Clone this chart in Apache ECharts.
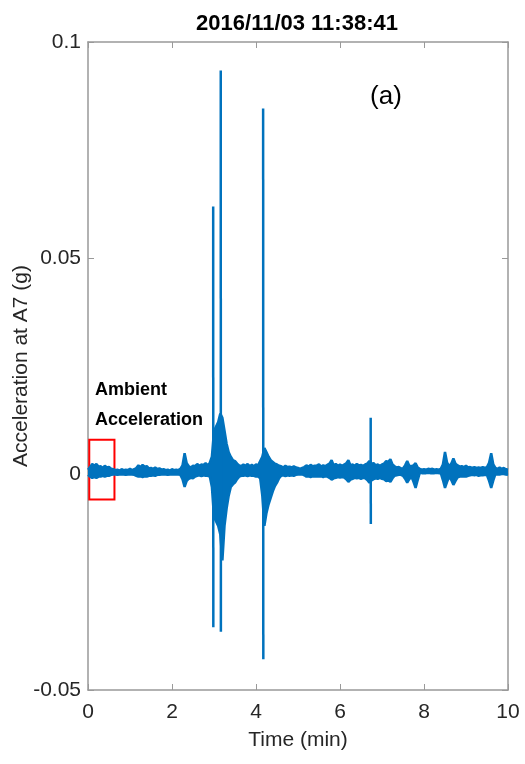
<!DOCTYPE html>
<html>
<head>
<meta charset="utf-8">
<script src="https://cdn.jsdelivr.net/npm/echarts@6/dist/echarts.min.js"></script>
<style>html,body{margin:0;padding:0;background:#fff}#c{width:525px;height:764px}</style>
</head>
<body>
<div id="c"></div>
<script>
// envelope samples every 0.1 min (t = k * 0.1, k = 0..100)
const gridStep = 0.1;
const upperEnv = [
0.0010,0.0023,0.0023,0.0018,0.0019,0.0016,0.0011,0.0010,0.0011,0.0010,
0.0012,0.0011,0.0020,0.0021,0.0018,0.0014,0.0015,0.0013,0.0011,0.0010,
0.0011,0.0010,0.0012,0.0048,0.0018,0.0019,0.0023,0.0022,0.0025,0.0026,
0.0100,0.0120,0.0130,0.0070,0.0040,0.0030,0.0020,0.0022,0.0023,0.0021,
0.0022,0.0030,0.0060,0.0040,0.0028,0.0022,0.0018,0.0019,0.0017,0.0018,
0.0014,0.0014,0.0020,0.0021,0.0019,0.0022,0.0020,0.0021,0.0032,0.0023,
0.0022,0.0022,0.0032,0.0022,0.0023,0.0021,0.0022,0.0030,0.0025,0.0022,
0.0022,0.0030,0.0034,0.0018,0.0016,0.0013,0.0030,0.0018,0.0025,0.0012,
0.0011,0.0012,0.0012,0.0011,0.0012,0.0051,0.0018,0.0036,0.0020,0.0018,
0.0019,0.0016,0.0016,0.0015,0.0016,0.0016,0.0048,0.0014,0.0015,0.0014,
0.0010];
const lowerEnv = [
-0.0002,-0.0009,-0.0009,-0.0006,-0.0006,-0.0004,-0.0001,-0.0002,-0.0001,-0.0002,
-0.0001,-0.0002,-0.0006,-0.0007,-0.0006,-0.0004,-0.0004,-0.0002,-0.0001,-0.0002,
-0.0001,-0.0001,-0.0002,-0.0030,-0.0011,-0.0010,-0.0004,-0.0005,-0.0004,-0.0006,
-0.0100,-0.0120,-0.0200,-0.0080,-0.0030,-0.0020,-0.0006,-0.0004,-0.0005,-0.0004,
-0.0006,-0.0010,-0.0120,-0.0070,-0.0040,-0.0020,-0.0004,-0.0005,-0.0004,-0.0004,
-0.0001,-0.0001,-0.0006,-0.0007,-0.0006,-0.0006,-0.0007,-0.0006,-0.0013,-0.0009,
-0.0008,-0.0008,-0.0018,-0.0011,-0.0010,-0.0011,-0.0010,-0.0020,-0.0012,-0.0011,
-0.0011,-0.0016,-0.0018,-0.0004,-0.0002,-0.0004,-0.0020,-0.0006,-0.0032,0.0003,
0.0002,0.0003,0.0002,0.0003,0.0002,-0.0032,-0.0006,-0.0025,-0.0008,-0.0006,
-0.0006,-0.0003,-0.0003,-0.0004,-0.0003,-0.0003,-0.0032,0.0000,-0.0001,0.0000,
-0.0002];
// half-step envelope samples (t = k * 0.1 + 0.05, k = 0..99)
const midUpper = [
0.0016,0.0019,0.0017,0.0014,0.0015,0.0012,0.0009,0.0008,0.0009,0.0009,
0.0009,0.0014,0.0016,0.0017,0.0013,0.0012,0.0011,0.0010,0.0009,0.0008,
0.0009,0.0009,0.0020,0.0025,0.0015,0.0018,0.0019,0.0021,0.0020,0.0040,
0.0110,0.0140,0.0100,0.0050,0.0032,0.0024,0.0018,0.0019,0.0018,0.0018,
0.0020,0.0040,0.0050,0.0032,0.0024,0.0019,0.0015,0.0016,0.0015,0.0015,
0.0012,0.0016,0.0017,0.0018,0.0020,0.0017,0.0018,0.0024,0.0020,0.0019,
0.0019,0.0025,0.0020,0.0019,0.0020,0.0019,0.0024,0.0024,0.0020,0.0019,
0.0024,0.0028,0.0022,0.0015,0.0013,0.0020,0.0019,0.0020,0.0015,0.0010,
0.0010,0.0011,0.0010,0.0010,0.0022,0.0026,0.0024,0.0024,0.0017,0.0016,
0.0015,0.0014,0.0014,0.0014,0.0014,0.0026,0.0022,0.0012,0.0012,0.0011];
const midLower = [
-0.0006,-0.0007,-0.0006,-0.0004,-0.0004,-0.0002,-0.0001,-0.0001,-0.0001,-0.0001,
-0.0001,-0.0004,-0.0005,-0.0005,-0.0004,-0.0003,-0.0002,-0.0001,-0.0001,-0.0001,
-0.0001,-0.0001,-0.0012,-0.0016,-0.0009,-0.0006,-0.0003,-0.0003,-0.0004,-0.0030,
-0.0110,-0.0140,-0.0120,-0.0050,-0.0024,-0.0012,-0.0004,-0.0003,-0.0003,-0.0004,
-0.0006,-0.0050,-0.0090,-0.0055,-0.0028,-0.0010,-0.0003,-0.0003,-0.0003,-0.0002,
-0.0001,-0.0003,-0.0005,-0.0005,-0.0005,-0.0005,-0.0005,-0.0009,-0.0010,-0.0007,
-0.0007,-0.0012,-0.0013,-0.0009,-0.0009,-0.0009,-0.0014,-0.0015,-0.0010,-0.0009,
-0.0012,-0.0015,-0.0010,-0.0003,-0.0002,-0.0011,-0.0012,-0.0018,-0.0014,0.0002,
0.0002,0.0002,0.0002,0.0002,-0.0014,-0.0018,-0.0014,-0.0016,-0.0006,-0.0005,
-0.0004,-0.0002,-0.0002,-0.0003,-0.0002,-0.0016,-0.0015,-0.0001,0.0000,-0.0001];
const spikeTimes = [2.98, 3.16, 4.17, 6.73];
const spikeHigh = [0.0619, 0.0934, 0.0846, 0.0130];
const spikeLow = [-0.0355, -0.0365, -0.0429, -0.0116];
const xTicks = [0, 2, 4, 6, 8, 10];
const yTicks = [-0.05, 0, 0.05, 0.1];
const boxTime = [0.03, 0.63];
const boxAccel = [-0.0059, 0.0079];

const BLUE = '#0072BD';
const FONT = "'Liberation Sans', Arial, Helvetica, sans-serif";
const axisGrey = '#999999';
const labelCol = '#262626';

function merge(full, half) {
  const out = [];
  for (let k = 0; k < full.length; k++) {
    out.push([+(k * gridStep).toFixed(3), full[k]]);
    if (k < half.length) out.push([+(k * gridStep + gridStep / 2).toFixed(3), half[k]]);
  }
  return out;
}
const upPts = merge(upperEnv, midUpper);
const loPts = merge(lowerEnv, midLower);

const bandStyle = {
  type: 'line', showSymbol: false, symbol: 'none', silent: true,
  lineStyle: {color: BLUE, width: 2.5},
  areaStyle: {color: BLUE, opacity: 1, origin: 0}
};
const series = [
  Object.assign({}, bandStyle, {name: 'upper', data: upPts}),
  Object.assign({}, bandStyle, {name: 'lower', data: loPts,
    markArea: {
      silent: true,
      itemStyle: {color: 'rgba(0,0,0,0)', borderColor: '#ff0000', borderWidth: 2},
      data: [[{coord: [boxTime[0], boxAccel[1]]}, {coord: [boxTime[1], boxAccel[0]]}]]
    }})
];
spikeTimes.forEach((t, i) => {
  series.push({
    type: 'line', showSymbol: false, symbol: 'none', silent: true,
    lineStyle: {color: BLUE, width: 2.5},
    data: [[t, spikeHigh[i]], [+(t + 0.004).toFixed(3), spikeLow[i]]]
  });
});

const axisCommon = {
  axisLine: {show: true, onZero: false, lineStyle: {color: axisGrey, width: 1.5}},
  axisTick: {show: true, inside: true, length: 6, lineStyle: {color: axisGrey}},
  splitLine: {show: false}
};

const chart = echarts.init(document.getElementById('c'), null, {renderer: 'canvas'});
chart.setOption({
  animation: false,
  backgroundColor: '#fff',
  grid: {left: 88, right: 17, top: 42, bottom: 74, containLabel: false, outerBoundsMode: 'none'},
  xAxis: [Object.assign({
    type: 'value', min: xTicks[0], max: xTicks[xTicks.length - 1], interval: 2,
    position: 'bottom',
    name: 'Time (min)', nameLocation: 'middle', nameGap: 40, nameMoveOverlap: false,
    nameTextStyle: {fontFamily: FONT, fontSize: 21, color: labelCol},
    axisLabel: {fontFamily: FONT, fontSize: 21, color: labelCol, margin: 12}
  }, axisCommon), Object.assign({
    type: 'value', min: xTicks[0], max: xTicks[xTicks.length - 1], interval: 2,
    position: 'top', axisLabel: {show: false}
  }, axisCommon)],
  yAxis: [Object.assign({
    type: 'value', min: yTicks[0], max: yTicks[yTicks.length - 1], interval: 0.05,
    position: 'left',
    name: 'Acceleration at A7 (g)', nameLocation: 'middle', nameGap: 56, nameMoveOverlap: false,
    nameTextStyle: {fontFamily: FONT, fontSize: 21, color: labelCol},
    axisLabel: {fontFamily: FONT, fontSize: 21, color: labelCol, margin: 7}
  }, axisCommon), Object.assign({
    type: 'value', min: yTicks[0], max: yTicks[yTicks.length - 1], interval: 0.05,
    position: 'right', axisLabel: {show: false}
  }, axisCommon)],
  series: series,
  graphic: [
    {type: 'text', x: 297, y: 24, style: {text: '2016/11/03 11:38:41', font: 'bold 22px ' + FONT, fill: '#000', textAlign: 'center', textVerticalAlign: 'middle'}},
    {type: 'text', x: 386, y: 97, style: {text: '(a)', font: '26px ' + FONT, fill: '#000', textAlign: 'center', textVerticalAlign: 'middle'}},
    {type: 'text', x: 95, y: 390, style: {text: 'Ambient', font: 'bold 18px ' + FONT, fill: '#000', textAlign: 'left', textVerticalAlign: 'middle'}},
    {type: 'text', x: 95, y: 420, style: {text: 'Acceleration', font: 'bold 18px ' + FONT, fill: '#000', textAlign: 'left', textVerticalAlign: 'middle'}}
  ]
});
</script>
</body>
</html>
